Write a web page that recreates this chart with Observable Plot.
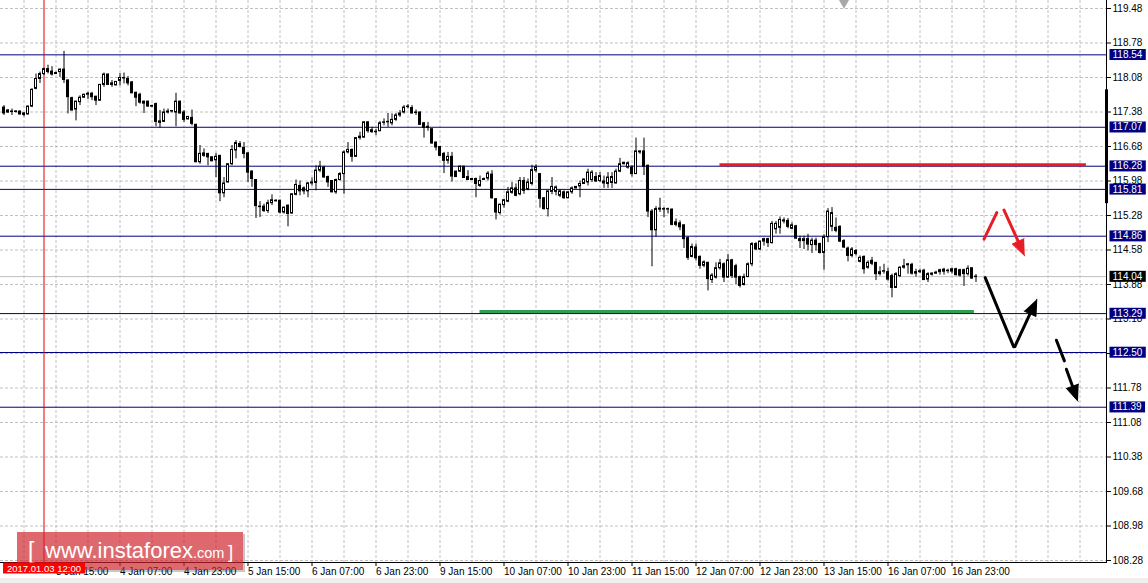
<!DOCTYPE html>
<html><head><meta charset="utf-8">
<script src="https://cdn.jsdelivr.net/npm/d3@7"></script>
<script src="https://cdn.jsdelivr.net/npm/@observablehq/plot@0.6"></script>
<style>
html,body{margin:0;padding:0;background:#fff;}
#wrap{position:relative;width:1148px;height:583px;overflow:hidden;background:#fff;}
#band{position:absolute;left:0;top:578px;width:1148px;height:5px;background:#f0f0f0;}
</style></head><body><div id="wrap"></div>
<script>
// ---- candle data (H1 bars, index 0 = 3 Jan 02:00) ----
const open = [
117.47,117.37,117.38,117.39,117.39,117.35,117.33,117.49,117.85,118.05,
118.15,118.25,118.20,118.17,118.19,118.24,118.02,117.66,117.43,117.58,
117.67,117.73,117.75,117.69,117.61,117.93,118.14,117.96,117.92,118.01,
118.07,118.05,117.98,117.77,117.73,117.59,117.59,117.50,117.54,117.16,
117.18,117.37,117.39,117.37,117.59,117.37,117.23,117.26,117.12,116.36,
116.54,116.53,116.46,116.40,116.49,115.73,115.95,116.32,116.60,116.73,
116.65,116.54,116.17,116.00,115.46,115.46,115.37,115.53,115.58,115.58,
115.34,115.48,115.32,115.70,115.88,115.83,115.77,115.93,115.94,116.19,
116.25,116.06,115.98,115.75,116.00,116.12,116.56,116.61,116.47,116.85,
116.86,117.17,117.01,116.98,116.99,117.16,117.17,117.15,117.22,117.31,
117.37,117.48,117.46,117.37,117.37,117.15,117.08,117.03,116.76,116.67,
116.53,116.39,116.47,116.17,116.17,116.27,116.06,116.02,116.02,115.88,
116.00,116.03,116.11,115.61,115.33,115.49,115.56,115.74,115.83,115.71,
115.98,115.81,115.92,116.19,116.12,115.63,115.41,115.76,115.76,115.68,
115.75,115.63,115.75,115.83,115.87,115.92,115.95,116.00,116.06,115.98,
115.97,115.92,115.94,115.93,116.17,116.32,116.25,116.25,116.12,116.58,
116.58,116.29,115.36,114.98,115.42,115.41,115.40,115.40,115.14,115.12,
115.08,114.82,114.44,114.63,114.44,114.26,114.32,113.97,114.02,114.21,
114.29,114.02,114.37,114.25,114.03,113.87,114.03,114.29,114.70,114.59,
114.75,114.80,114.72,115.00,115.03,115.18,115.17,115.01,115.06,114.80,
114.76,114.80,114.68,114.77,114.70,114.52,114.84,115.05,115.03,115.05,
114.76,114.61,114.46,114.56,114.34,114.44,114.22,114.36,114.32,114.09,
114.14,114.13,114.05,113.81,114.05,114.22,114.27,114.28,114.13,114.13,
114.16,113.98,114.10,114.10,114.13,114.18,114.15,114.14,114.19,114.17,
114.17,114.09,114.21,114.03];
const high = [
117.51,117.43,117.44,117.41,117.40,117.37,117.50,117.85,118.15,118.19,
118.27,118.33,118.30,118.19,118.25,118.61,118.03,117.68,117.60,117.71,
117.74,117.78,117.78,117.70,117.94,118.17,118.15,118.02,118.00,118.16,
118.17,118.10,118.00,117.78,117.76,117.60,117.60,117.52,117.56,117.41,
117.44,117.44,117.41,117.76,117.60,117.41,117.29,117.42,117.13,116.70,
116.63,116.54,116.47,116.54,116.50,116.05,116.33,116.70,116.80,116.78,
116.76,116.55,116.19,116.01,115.56,115.51,115.59,115.70,115.60,115.59,
115.45,115.49,115.72,116.00,115.98,115.86,115.95,116.04,116.29,116.38,
116.28,116.08,115.99,116.02,116.15,116.59,116.76,116.63,116.86,116.97,
117.18,117.18,117.07,117.03,117.19,117.24,117.35,117.34,117.35,117.41,
117.51,117.53,117.51,117.42,117.38,117.17,117.17,117.04,116.77,116.68,
116.56,116.56,116.56,116.18,116.29,116.28,116.19,116.03,116.04,116.08,
116.04,116.17,116.19,115.62,115.51,115.61,115.85,115.95,115.92,116.05,
116.05,116.02,116.30,116.31,116.12,115.64,115.77,116.05,115.88,115.80,
115.78,115.76,115.86,115.87,115.98,116.02,116.22,116.19,116.15,116.15,
116.08,116.15,116.15,116.22,116.44,116.36,116.37,116.29,116.85,116.59,
116.85,116.30,115.40,115.46,115.63,115.44,115.43,115.41,115.21,115.17,
115.09,114.85,114.70,114.70,114.46,114.36,114.33,114.10,114.32,114.39,
114.32,114.49,114.39,114.29,114.05,114.09,114.32,114.73,114.73,114.76,
114.82,114.82,115.16,115.16,115.25,115.23,115.22,115.13,115.08,114.86,
114.86,114.90,114.82,114.82,114.72,114.89,115.42,115.44,115.23,115.07,
114.79,114.64,114.63,114.59,114.46,114.46,114.36,114.43,114.32,114.24,
114.29,114.21,114.09,114.12,114.24,114.39,114.31,114.31,114.19,114.19,
114.19,114.12,114.12,114.15,114.19,114.21,114.19,114.21,114.21,114.19,
114.19,114.26,114.21,114.08];
const low = [
117.31,117.35,117.31,117.36,117.32,117.28,117.32,117.47,117.83,117.96,
118.12,118.15,118.11,118.15,118.08,117.96,117.34,117.40,117.20,117.51,
117.66,117.63,117.61,117.51,117.60,117.88,117.92,117.88,117.91,117.91,
117.95,117.91,117.75,117.49,117.54,117.35,117.48,117.47,117.08,117.05,
117.17,117.34,117.36,117.08,117.34,117.17,117.22,117.10,116.35,116.32,
116.46,116.29,116.37,116.05,115.56,115.64,115.94,116.29,116.43,116.65,
116.43,115.95,115.85,115.22,115.24,115.34,115.32,115.48,115.55,115.31,
115.31,115.05,115.31,115.68,115.68,115.70,115.64,115.88,115.78,116.15,
116.04,115.85,115.74,115.71,115.98,115.71,116.53,116.36,116.46,116.81,
116.85,116.95,116.95,116.90,116.98,117.10,117.07,117.10,117.19,117.27,
117.34,117.44,117.34,117.31,117.11,116.85,116.99,116.73,116.59,116.48,
116.13,116.32,115.96,116.05,116.15,116.03,115.99,115.99,115.64,115.85,
115.99,115.98,115.61,115.19,115.29,115.43,115.54,115.71,115.66,115.68,
115.71,115.78,115.88,116.15,115.43,115.39,115.25,115.70,115.68,115.64,
115.61,115.62,115.71,115.82,115.64,115.91,115.88,115.95,115.95,115.95,
115.83,115.83,115.83,115.92,116.15,116.31,116.22,116.06,116.11,116.52,
116.09,115.24,114.24,114.84,115.34,115.24,115.31,115.07,115.05,114.97,
114.61,114.37,114.42,114.36,114.19,114.22,113.75,113.90,113.99,114.17,
113.92,114.01,114.00,113.88,113.81,113.85,114.02,114.24,114.57,114.57,
114.66,114.63,114.70,114.90,114.90,115.11,115.01,114.99,114.80,114.61,
114.59,114.56,114.51,114.56,114.50,114.17,114.73,114.95,114.93,114.73,
114.61,114.34,114.42,114.46,114.32,114.09,114.19,114.26,113.96,114.05,
114.09,113.95,113.61,113.80,114.02,114.19,114.09,114.07,114.03,114.10,
113.96,113.92,114.05,114.09,114.07,114.07,114.10,114.09,114.05,114.03,
113.84,114.05,113.99,113.92];
const close = [
117.35,117.41,117.39,117.38,117.33,117.32,117.49,117.83,118.05,118.15,
118.25,118.19,118.14,118.15,118.24,118.03,117.68,117.41,117.59,117.67,
117.73,117.75,117.68,117.61,117.93,118.14,117.93,117.93,117.99,118.07,
118.06,117.96,117.76,117.67,117.57,117.55,117.49,117.49,117.18,117.19,
117.37,117.39,117.40,117.59,117.35,117.22,117.28,117.14,116.36,116.53,
116.49,116.46,116.38,116.47,115.73,115.93,116.32,116.61,116.75,116.67,
116.53,116.15,116.02,115.47,115.45,115.37,115.53,115.59,115.57,115.34,
115.44,115.31,115.71,115.90,115.77,115.77,115.93,115.95,116.19,116.27,
116.05,115.95,115.75,116.00,116.12,116.56,116.61,116.47,116.85,116.88,
117.17,116.99,116.97,116.97,117.15,117.17,117.18,117.22,117.31,117.35,
117.47,117.49,117.35,117.36,117.12,117.06,117.06,116.74,116.66,116.49,
116.39,116.47,116.07,116.06,116.27,116.04,116.00,116.00,115.92,115.98,
116.02,116.13,115.63,115.34,115.50,115.59,115.75,115.83,115.68,115.98,
115.78,115.95,116.20,116.26,115.62,115.41,115.77,115.86,115.85,115.77,
115.63,115.75,115.83,115.86,115.92,116.01,116.15,116.15,115.97,116.08,
115.93,116.05,116.06,116.17,116.32,116.35,116.34,116.12,116.58,116.56,
116.27,115.36,114.98,115.41,115.40,115.40,115.41,115.09,115.09,115.04,
114.80,114.42,114.64,114.41,114.26,114.33,113.99,114.06,114.21,114.31,
114.02,114.37,114.05,114.02,113.85,114.03,114.29,114.70,114.59,114.75,
114.80,114.72,115.11,115.11,115.19,115.16,115.05,115.08,114.81,114.76,
114.80,114.69,114.77,114.68,114.52,114.84,115.36,115.33,114.97,114.75,
114.63,114.46,114.59,114.50,114.42,114.19,114.32,114.30,114.09,114.13,
114.15,113.98,113.81,114.09,114.22,114.25,114.29,114.10,114.10,114.15,
113.97,114.09,114.08,114.12,114.17,114.14,114.16,114.19,114.07,114.06,
114.09,114.20,114.00,114.04];

// ---- axes ----
const tickIdx = [13,29,45,61,77,93,109,125,141,157,173,189,205,221,237];
const tickLabels = ["3 Jan 15:00","4 Jan 07:00","4 Jan 23:00","5 Jan 15:00","6 Jan 07:00","6 Jan 23:00",
  "9 Jan 15:00","10 Jan 07:00","10 Jan 23:00","11 Jan 15:00","12 Jan 07:00","12 Jan 23:00",
  "13 Jan 15:00","16 Jan 07:00","16 Jan 23:00"];
const gridIdx = d3.range(5, 276, 8);
const priceTicks = [119.48,118.78,118.08,117.38,116.68,115.98,115.28,114.58,113.88,113.18,112.48,111.78,111.08,110.38,109.68,108.98,108.28];

// ---- levels & annotations ----
const levels = [118.54,117.07,116.28,115.81,114.86,113.29,112.50,111.39];
const currentPrice = 114.04;
const crossIdx = 10;               // crosshair at 2017.01.03 12:00
const crossLabel = "2017.01.03 12:00";
const shiftIdx = 210;
const scaleBar = [{y1:117.83, y2:115.52}];
const redLevel = [{from:179, to:270.6, price:116.31}];
const greenLevel = [{from:119, to:242.6, price:113.33}];
const redUp = [{i:245, p:114.80},{i:248.2, p:115.34}];
const redDown = [{i1:250, p1:115.39, i2:255.2, p2:114.46}];
const blackDown = [{i:245.3, p:114.02},{i:252.4, p:112.62}];
const blackUp = [{i1:252.7, p1:112.62, i2:258.2, p2:113.58}];
const dashA = [{i:263.1, p:112.75},{i:265.1, p:112.33}];
const dashB = [{i1:265.6, p1:112.16, i2:268.5, p2:111.51}];
const watermark = {open:"[", site:"www.instaforex", tld:".com", close:"]"};

const candles = open.map((o, i) => ({i, open:o, high:high[i], low:low[i], close:close[i]}));
const W = 1148, H = 583, mR = 42, mB = 21;
const xDomain = [-0.875, 275.625], yDomain = [108.28, 119.48], yRange = [560, 8];
const RED = "#e81c24", NAVY = "#000080", GREEN = "#2f9e52";
const font = '"Liberation Sans",Arial,sans-serif';

// same scales as the plot, used to shape filled arrowheads
const xS = d3.scaleLinear(xDomain, [0, W - mR]);
const yS = d3.scaleLinear(yDomain, yRange);
function arrowParts(list, color) {
  const shafts = [], heads = [];
  list.forEach((a, k) => {
    const ax = xS(a.i1), ay = yS(a.p1), bx = xS(a.i2), by = yS(a.p2);
    const len = Math.hypot(bx - ax, by - ay), ux = (bx - ax) / len, uy = (by - ay) / len;
    const L = 16, Wd = 6.5, cx = bx - ux * L, cy = by - uy * L;
    shafts.push({k, i:a.i1, p:a.p1}, {k, i:xS.invert(cx + ux * 2), p:yS.invert(cy + uy * 2)});
    heads.push({k, i:a.i2, p:a.p2},
      {k, i:xS.invert(cx - uy * Wd), p:yS.invert(cy + ux * Wd)},
      {k, i:xS.invert(cx + uy * Wd), p:yS.invert(cy - ux * Wd)});
  });
  return [
    Plot.line(shafts, {x:"i", y:"p", z:"k", stroke:color, strokeWidth:3}),
    Plot.line(heads, {x:"i", y:"p", z:"k", fill:color, stroke:color, strokeWidth:1, strokeLinejoin:"miter"})
  ];
}

const chart = Plot.plot({
  width:W, height:H, marginLeft:0, marginRight:mR, marginTop:0, marginBottom:mB,
  x:{domain:xDomain, axis:null},
  y:{domain:yDomain, range:yRange, axis:null},
  style:{fontFamily:font, fontSize:"10px", color:"black", background:"transparent", overflow:"visible"},
  marks:[
    Plot.ruleX(gridIdx, {x:d=>d, stroke:"#c0c0c0", strokeDasharray:"3,2"}),
    Plot.ruleY(priceTicks, {y:d=>d, stroke:"#c0c0c0", strokeDasharray:"3,2"}),
    Plot.ruleY([currentPrice], {y:d=>d, stroke:"#c0c0c0"}),
    Plot.ruleY(levels, {y:d=>d, stroke:NAVY}),
    Plot.ruleX([crossIdx], {x:d=>d, stroke:"#e00000"}),
    Plot.ruleY(redLevel, {y:"price", x1:"from", x2:"to", stroke:RED, strokeWidth:3}),
    Plot.ruleY(greenLevel, {y:"price", x1:"from", x2:"to", stroke:GREEN, strokeWidth:3}),
    Plot.ruleX(candles, {x:"i", y1:"low", y2:"high", stroke:"black"}),
    Plot.rect(candles, {x1:d=>d.i-0.25, x2:d=>d.i+0.25, y1:"open", y2:"close",
      fill:d=>d.close>=d.open?"white":"black", stroke:"black", strokeWidth:1}),
    Plot.line(redUp, {x:"i", y:"p", stroke:RED, strokeWidth:3}),
    ...arrowParts(redDown, RED),
    Plot.line(blackDown, {x:"i", y:"p", stroke:"black", strokeWidth:3}),
    ...arrowParts(blackUp, "black"),
    Plot.line(dashA, {x:"i", y:"p", stroke:"black", strokeWidth:3}),
    ...arrowParts(dashB, "black"),
    Plot.dot([shiftIdx], {x:d=>d, frameAnchor:"top", symbol:"triangle", rotate:180, r:4, fill:"#a8a8a8", dy:2}),
    Plot.frame({anchor:"bottom", stroke:"black"}),
    Plot.frame({anchor:"right", stroke:"black"}),
    Plot.ruleX(scaleBar, {x:()=>xDomain[1], y1:"y1", y2:"y2", stroke:"black", strokeWidth:3}),
    Plot.axisX(tickIdx, {anchor:"bottom", tickSize:4, tickPadding:1, textAnchor:"start",
      tickFormat:d=>tickLabels[tickIdx.indexOf(d)], fontSize:10}),
    Plot.axisY(priceTicks, {anchor:"right", tickSize:4, tickPadding:2, tickFormat:d=>d.toFixed(2), fontSize:10}),
    Plot.text(levels, {y:d=>d, frameAnchor:"right", dx:6, textAnchor:"start", fill:"white", text:d=>d.toFixed(2), className:"lvl", fontSize:10}),
    Plot.text([currentPrice], {y:d=>d, frameAnchor:"right", dx:6, textAnchor:"start", fill:"white", text:d=>d.toFixed(2), className:"cur", fontSize:10}),
    Plot.text([crossIdx], {x:d=>d, frameAnchor:"bottom", dy:9, text:()=>crossLabel, fill:"white", className:"dlbl", fontSize:9.5})
  ]
});

const wrap = document.getElementById("wrap");
wrap.appendChild(chart);
function boxes(cls, color, padX, h) {
  d3.select(chart).selectAll("g." + cls + " text").each(function() {
    const bb = this.getBBox();
    const cy = bb.y + bb.height / 2;
    d3.select(this.parentNode).insert("rect", () => this)
      .attr("x", bb.x - padX).attr("y", cy - h / 2)
      .attr("width", bb.width + 2 * padX).attr("height", h)
      .attr("transform", this.getAttribute("transform"))
      .attr("fill", color);
  });
}
boxes("lvl", NAVY, 3, 11);
boxes("cur", "black", 3, 11);
boxes("dlbl", "#ff0000", 4, 11);

// watermark, drawn under the crosshair date label
const dl = chart.querySelector("g.dlbl");
const wm = d3.select(chart).insert("g", () => dl)
  .attr("font-family", font).attr("fill", "white").attr("text-anchor", "start");
wm.append("rect").attr("x", 243).attr("y", 534).attr("width", 2).attr("height", 38).attr("fill", "rgba(0,0,0,0.22)");
wm.append("rect").attr("x", 19).attr("y", 570).attr("width", 224).attr("height", 2).attr("fill", "rgba(0,0,0,0.22)");
wm.append("rect").attr("x", 17).attr("y", 532).attr("width", 226).attr("height", 38).attr("fill", "rgba(205,34,41,0.68)");
wm.append("text").attr("x", 28).attr("y", 559).attr("font-size", 23).text(watermark.open);
wm.append("text").attr("x", 45).attr("y", 558).attr("font-size", 22).text(watermark.site);
wm.append("text").attr("x", 193).attr("y", 558).attr("font-size", 14.5).text(watermark.tld);
wm.append("text").attr("x", 228).attr("y", 558).attr("font-size", 19).text(watermark.close);

const band = document.createElement("div"); band.id = "band"; wrap.appendChild(band);
</script></body></html>
